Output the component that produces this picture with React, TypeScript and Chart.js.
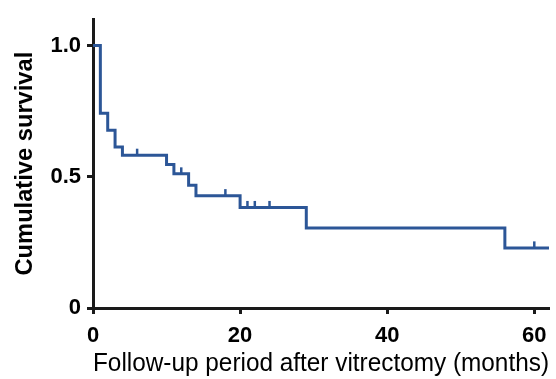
import { useEffect, useRef } from 'react';
import { Chart, registerables } from 'chart.js';

Chart.register(...registerables);

// Kaplan-Meier step curve (event times in months, survival after the step)
const eventTimes = [0, 1, 2, 3, 4, 10, 11, 13, 14, 20, 29, 56, 62];
const survival = [1.0, 0.742, 0.677, 0.613, 0.582, 0.547, 0.511, 0.468, 0.428, 0.383, 0.305, 0.229, 0.229];
// Censored observations (months)
const censorTimes = [6, 12, 18, 21, 22, 24, 60];
const xTicks = [0, 20, 40, 60];
const yTicks = [0, 0.5, 1.0];
const yTickLabels = ['0', '0.5', '1.0'];

const BLUE = '#2c5697';
const FONT = "'Liberation Sans', Arial, Helvetica, sans-serif";

function survivalAt(t: number): number {
  let s = survival[0];
  for (let i = 0; i < eventTimes.length; i++) {
    if (eventTimes[i] <= t) s = survival[i];
  }
  return s;
}

const censorPlugin = {
  id: 'censorTicks',
  afterDatasetsDraw(chart: any) {
    const xs = chart.scales.x;
    const ys = chart.scales.y;
    const ctx = chart.ctx;
    ctx.save();
    ctx.strokeStyle = BLUE;
    ctx.lineWidth = 2.5;
    ctx.lineCap = 'butt';
    censorTimes.forEach((t) => {
      const px = xs.getPixelForValue(t);
      const py = ys.getPixelForValue(survivalAt(t));
      ctx.beginPath();
      ctx.moveTo(px, py);
      ctx.lineTo(px, py - 6.5);
      ctx.stroke();
    });
    ctx.restore();
  },
};

export default function App() {
  const ref = useRef<HTMLCanvasElement | null>(null);
  useEffect(() => {
    if (!ref.current) return;
    const chart = new Chart(ref.current, {
      type: 'line',
      data: {
        datasets: [
          {
            data: eventTimes.map((t, i) => ({ x: t, y: survival[i] })),
            stepped: true,
            borderColor: BLUE,
            borderWidth: 3,
            pointRadius: 0,
            fill: false,
          },
        ],
      },
      options: {
        animation: false,
        responsive: false,
        layout: { padding: { top: 16, right: 7, left: 0, bottom: 0 } },
        plugins: { legend: { display: false }, tooltip: { enabled: false } },
        scales: {
          x: {
            type: 'linear',
            min: 0,
            max: 62,
            afterBuildTicks: (s: any) => {
              s.ticks = xTicks.map((v) => ({ value: v }));
            },
            afterFit: (s: any) => {
              s.height = 71;
            },
            grid: { drawOnChartArea: false, color: '#1a1a1a', tickLength: 6, tickWidth: 3 },
            border: { color: '#1a1a1a', width: 3 },
            ticks: {
              color: '#000',
              font: { family: FONT, size: 22, weight: 'bold' },
              padding: 9,
              maxRotation: 0,
              callback: (v: any) => String(v),
            },
            title: {
              display: true,
              text: 'Follow-up period after vitrectomy (months)',
              color: '#000',
              font: { family: FONT, size: 25.7, lineHeight: 1 },
              padding: { top: 0, bottom: 2 },
            },
          },
          y: {
            type: 'linear',
            min: 0,
            max: 1.1,
            afterBuildTicks: (s: any) => {
              s.ticks = yTicks.map((v) => ({ value: v }));
            },
            afterFit: (s: any) => {
              s.width = 93;
            },
            grid: { drawOnChartArea: false, color: '#1a1a1a', tickLength: 6, tickWidth: 3 },
            border: { color: '#1a1a1a', width: 3 },
            ticks: {
              color: '#000',
              font: { family: FONT, size: 22, weight: 'bold' },
              padding: 6,
              callback: (v: any) => {
                const i = yTicks.indexOf(Number(v));
                return i >= 0 ? yTickLabels[i] : '';
              },
            },
            title: {
              display: true,
              text: 'Cumulative survival',
              color: '#000',
              font: { family: FONT, size: 23.7, weight: 'bold', lineHeight: 1.2 },
              padding: { top: 11, bottom: 0 },
            },
          },
        },
      },
      plugins: [censorPlugin],
    } as any);
    return () => chart.destroy();
  }, []);

  return (
    <div style={{ position: 'absolute', left: 0, top: 0, width: 556, height: 379 }}>
      <canvas ref={ref} width={556} height={379} />
    </div>
  );
}
